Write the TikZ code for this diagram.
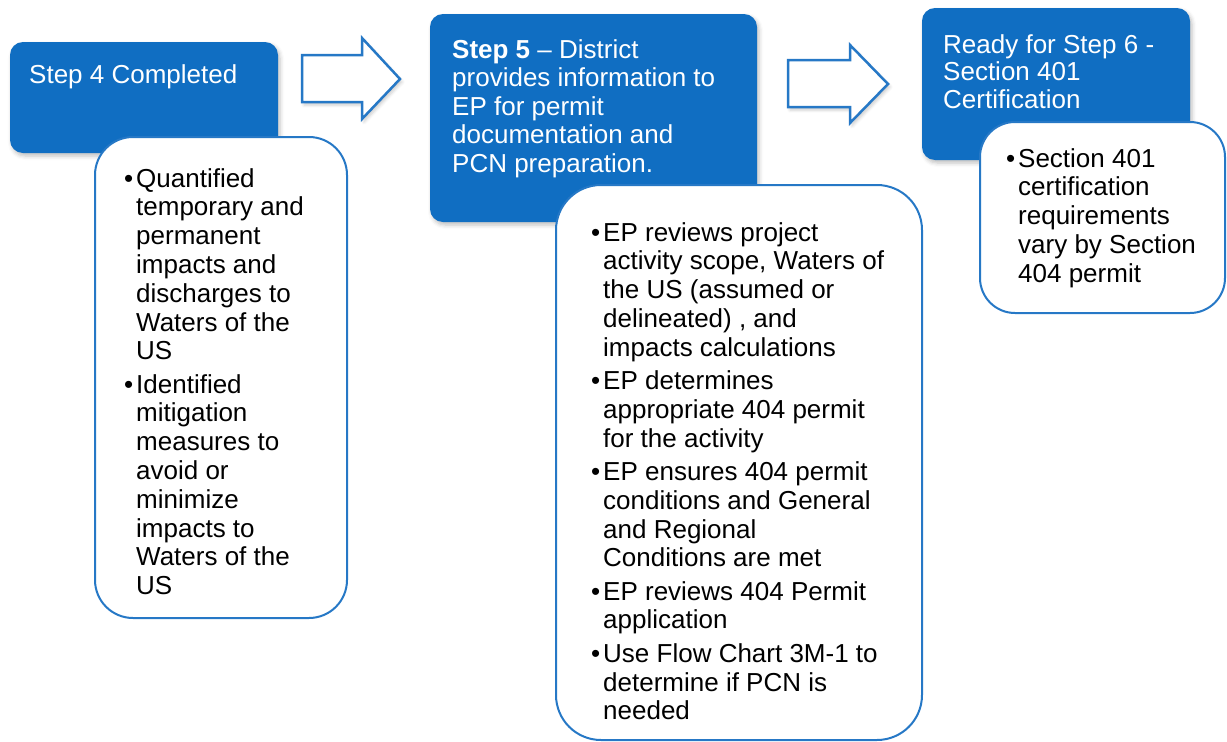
\documentclass[tikz,border=0pt]{standalone}
\usepackage{fontspec}
\setmainfont{Liberation Sans}
\usetikzlibrary{shadows.blur}

\definecolor{stepblue}{RGB}{16,110,194}
\definecolor{edgeblue}{RGB}{38,120,198}

% bullet column for the item lists
\newcommand{\bl}{\makebox[12pt][l]{•}}

\tikzset{
  headbox/.style={fill=stepblue, draw=none, rounded corners=13pt, anchor=north west,
    inner sep=0pt, outer sep=0pt,
    blur shadow={shadow xshift=2pt, shadow yshift=-3pt, shadow blur radius=4pt, shadow opacity=25}},
  listbox/.style={fill=white, draw=edgeblue, line width=2pt, anchor=north west,
    inner sep=0pt, outer sep=0pt},
  headtext/.style={anchor=base west, inner sep=0pt, text=white,
    font=\fontsize{26}{28.5}\selectfont},
  listtext/.style={anchor=base west, inner sep=0pt, text=black,
    font=\fontsize{26}{28.8}\selectfont},
  blockarrow/.style={draw=edgeblue, line width=2.5pt, fill=white, line join=miter,
    blur shadow={shadow xshift=2pt, shadow yshift=-3pt, shadow blur radius=3pt, shadow opacity=20}},
}

\begin{document}
\begin{tikzpicture}[x=1pt, y=-1pt]
\useasboundingbox (0,0) rectangle (1227,742);

% ---- Step 4 ----
\node[headbox, minimum width=268pt, minimum height=111pt] (h4) at (10,42) {};
\node[headtext] (t4) at (29,83) {\begin{tabular}[t]{@{}l@{}}Step 4 Completed\end{tabular}};
\node[listbox, rounded corners=38pt, minimum width=252pt, minimum height=481pt] (l4) at (95,137) {};
\node[listtext] (i4) at (124,187) {\begin{tabular}[t]{@{}l@{}l@{}}
\bl & Quantified\\
    & temporary and\\
    & permanent\\
    & impacts and\\
    & discharges to\\
    & Waters of the\\
    & US\\[4.5pt]
\bl & Identified\\
    & mitigation\\
    & measures to\\
    & avoid or\\
    & minimize\\
    & impacts to\\
    & Waters of the\\
    & US
\end{tabular}};

% ---- arrow 4 -> 5 ----
\draw[blockarrow] (302,55) -- (362,55) -- (362,38) -- (400,79) -- (362,119)
  -- (362,102) -- (302,102) -- cycle;

% ---- Step 5 ----
\node[headbox, minimum width=327pt, minimum height=208pt] (h5) at (430,14) {};
\node[headtext] (t5) at (452,58) {\begin{tabular}[t]{@{}l@{}}
\textbf{Step 5} – District\\
provides information to\\
EP for permit\\
documentation and\\
PCN preparation.
\end{tabular}};
\node[listbox, rounded corners=45pt, minimum width=366pt, minimum height=555pt] (l5) at (556,185) {};
\node[listtext] (i5) at (591,241) {\begin{tabular}[t]{@{}l@{}l@{}}
\bl & EP reviews project\\
    & activity scope, Waters of\\
    & the US (assumed or\\
    & delineated) , and\\
    & impacts calculations\\[4.5pt]
\bl & EP determines\\
    & appropriate 404 permit\\
    & for the activity\\[4.5pt]
\bl & EP ensures 404 permit\\
    & conditions and General\\
    & and Regional\\
    & Conditions are met\\[4.5pt]
\bl & EP reviews 404 Permit\\
    & application\\[4.5pt]
\bl & Use Flow Chart 3M-1 to\\
    & determine if PCN is\\
    & needed
\end{tabular}};

% ---- arrow 5 -> 6 ----
\draw[blockarrow] (788,60) -- (850,60) -- (850,45) -- (888,84) -- (850,123)
  -- (850,107) -- (788,107) -- cycle;

% ---- Step 6 ----
\node[headbox, minimum width=268pt, minimum height=152pt] (h6) at (922,8) {};
\node[headtext, font=\fontsize{26}{27.5}\selectfont] (t6) at (943,53) {\begin{tabular}[t]{@{}l@{}}
Ready for Step 6 -\\
Section 401\\
Certification
\end{tabular}};
\node[listbox, rounded corners=35pt, minimum width=245pt, minimum height=191pt] (l6) at (980,122) {};
\node[listtext] (i6) at (1006,167) {\begin{tabular}[t]{@{}l@{}l@{}}
\bl & Section 401\\
    & certification\\
    & requirements\\
    & vary by Section\\
    & 404 permit
\end{tabular}};
\end{tikzpicture}
\end{document}
